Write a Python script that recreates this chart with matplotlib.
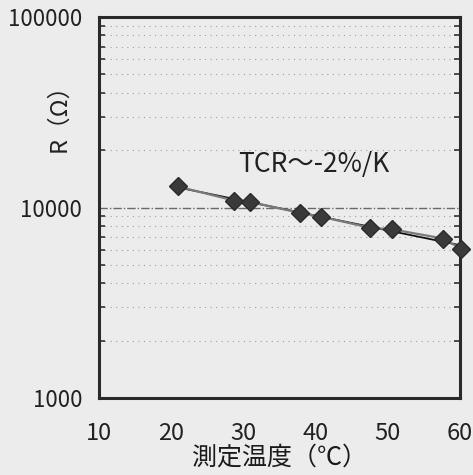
import numpy as np
import matplotlib
matplotlib.use("Agg")
import matplotlib.pyplot as plt
from matplotlib.ticker import LogLocator, NullFormatter, FixedLocator, FixedFormatter

plt.rcParams['font.family'] = ['Noto Sans CJK JP', 'DejaVu Sans']

# measured temperature (°C) and resistance (Ω)
temperature = [20.9, 28.7, 30.9, 37.8, 40.8, 47.6, 50.6, 57.7, 60.2]
resistance = [12900, 10880, 10700, 9380, 8940, 7820, 7680, 6870, 6060]

x_ticks = [10, 20, 30, 40, 50, 60]
y_ticks = [1000, 10000, 100000]
annotation = "TCR～-2%/K"

paper = "#ececec"
fig = plt.figure(figsize=(4.73, 4.75), dpi=100, facecolor=paper)
ax = fig.add_axes([0.2093, 0.1621, 0.7632, 0.8021])
ax.set_facecolor(paper)

ax.set_yscale("log")
ax.set_xlim(10, 60)
ax.set_ylim(1000, 100000)

# faint dotted grid on the minor decades, dashed line at 10000
for dec in (1000, 10000):
    for m in range(2, 10):
        ax.axhline(dec * m, color="#a0a0a0", lw=0.8, ls=(0, (1, 4)), zorder=1)
ax.axhline(10000, color="#6a6a6a", lw=1.0, ls=(0, (6, 1.5, 1, 1.5)), zorder=1)

# trend line fitted in log space
coef = np.polyfit(temperature, np.log10(resistance), 1)
xf = np.array([temperature[0], temperature[-1]])
ax.plot(xf, 10 ** np.polyval(coef, xf), color="#111111", lw=1.3, zorder=3)

ax.plot(temperature, resistance, color="#7a7a7a", lw=1.6, marker="D",
        markersize=9.5, markerfacecolor="#3a3a3a", markeredgecolor="#2a2a2a",
        zorder=4, clip_on=False)

ax.text(29.3, 16800, annotation, fontsize=19, color="#222222",
        ha="left", va="center")

ax.xaxis.set_major_locator(FixedLocator(x_ticks))
ax.xaxis.set_major_formatter(FixedFormatter([str(v) for v in x_ticks]))
ax.yaxis.set_major_locator(FixedLocator(y_ticks))
ax.yaxis.set_major_formatter(FixedFormatter([str(v) for v in y_ticks]))
ax.yaxis.set_minor_locator(LogLocator(base=10, subs=np.arange(2, 10)))
ax.yaxis.set_minor_formatter(NullFormatter())

ax.tick_params(axis="y", which="major", direction="in", length=0,
               labelsize=16, pad=12, colors="#222222")
ax.tick_params(axis="y", which="minor", direction="in", length=4,
               width=1.2, color="#333333", right=True)
ax.tick_params(axis="x", which="major", direction="in", length=0,
               labelsize=17, pad=17, colors="#222222")

for s in ax.spines.values():
    s.set_linewidth(2.2)
    s.set_color("#2a2a2a")

ax.set_xlabel("測定温度（℃）", fontsize=18, color="#1a1a1a")
ax.xaxis.set_label_coords(0.5, -0.157)
ax.xaxis.label.set_va("center")
ax.set_ylabel("R（Ω）", fontsize=17, color="#222222")
ax.yaxis.set_label_coords(-0.111, 0.751)
ax.yaxis.label.set_va("center")

fig.savefig("out.png", dpi=100, facecolor=paper)
